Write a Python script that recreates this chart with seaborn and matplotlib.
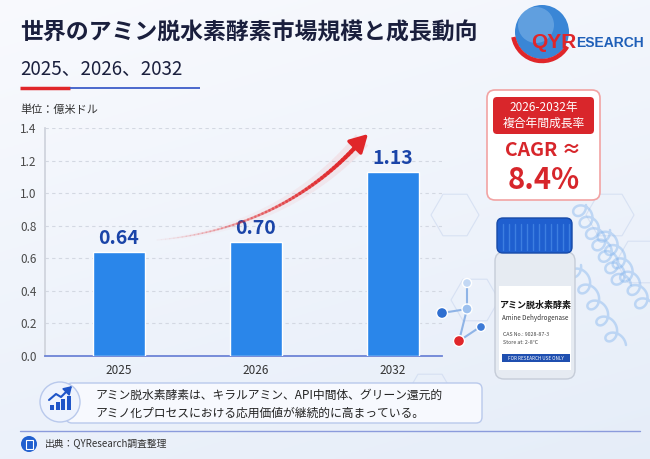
import numpy as np
import pandas as pd
import seaborn as sns
import matplotlib.pyplot as plt
from matplotlib.patches import FancyBboxPatch, Circle, Rectangle, Arc, RegularPolygon
from matplotlib.collections import LineCollection

# data
years = ['2025', '2026', '2032']
market_size = [0.64, 0.70, 1.13]
value_labels = ['0.64', '0.70', '1.13']
y_ticks = [0.0, 0.2, 0.4, 0.6, 0.8, 1.0, 1.2, 1.4]

title = '世界のアミン脱水素酵素市場規模と成長動向'
subtitle = '2025、2026、2032'
unit_label = '単位：億米ドル'
cagr_period = '2026-2032年'
cagr_name = '複合年間成長率'
cagr_value = '8.4%'
note_lines = ['アミン脱水素酵素は、キラルアミン、API中間体、グリーン還元的',
              'アミノ化プロセスにおける応用価値が継続的に高まっている。']
source = '出典：QYResearch調査整理'

sns.set_theme(style='white')
plt.rcParams['font.family'] = ['Noto Sans CJK JP', 'DejaVu Sans']

fig = plt.figure(figsize=(6.5, 4.59), dpi=100)

# background layer in pixel coordinates
bg = fig.add_axes([0, 0, 1, 1], zorder=0)
bg.set_xlim(0, 650)
bg.set_ylim(459, 0)
bg.axis('off')
yy, xx = np.mgrid[0:1:200j, 0:1:200j]
top = np.array([0.975, 0.98, 0.995])
bottom = np.array([0.90, 0.93, 0.975])
mix = (0.7 * yy + 0.3 * xx)[..., None]
img = top * (1 - mix) + bottom * mix
bg.imshow(img, extent=[0, 650, 459, 0], aspect='auto', zorder=0)

# faint hexagon outlines behind the right panel
for hx, hy in [(455, 215), (610, 215), (640, 262), (430, 395), (475, 300)]:
    bg.add_patch(RegularPolygon((hx, hy), 6, radius=24, orientation=np.pi / 6,
                                fc='none', ec='#c9d6ee', lw=0.8, alpha=0.6, zorder=1))

# chart
ax = fig.add_axes([45 / 650, 1 - 356 / 459, 397 / 650, 228 / 459], zorder=1)
ax.patch.set_alpha(0)
df = pd.DataFrame({'year': years, 'size': market_size})
sns.barplot(data=df, x='year', y='size', color='#2a86ea', saturation=1,
            width=0.38, ax=ax, zorder=3)
ax.set_xlim(-0.54, 2.36)
ax.set_ylim(0, 1.4)
ax.set_yticks(y_ticks)
ax.set_yticklabels([f'{t:.1f}' for t in y_ticks])
ax.set_xlabel('')
ax.set_ylabel('')
ax.yaxis.grid(True, linestyle=(0, (3, 3)), color='#d3d8e2', lw=0.8)
ax.set_axisbelow(True)
ax.bar_label(ax.containers[0], labels=value_labels, padding=3, fontsize=14,
             fontweight='bold', color='#1a44a8')
for s in ['top', 'right']:
    ax.spines[s].set_visible(False)
ax.spines['left'].set_color('#cfd3dc')
ax.spines['bottom'].set_color('#6d84d6')
ax.spines['bottom'].set_linewidth(1.3)
ax.tick_params(axis='y', length=0, pad=6, labelsize=8.5, labelcolor='#4a4a4a')
ax.tick_params(axis='x', length=0, pad=6, labelsize=8.5, labelcolor='#333333')

# growth arrow (quadratic curve with fading tail)
p0, p1, p2 = np.array([157, 240]), np.array([283, 229]), np.array([362, 140])
t = np.linspace(0, 1, 60)[:, None]
pts = (1 - t) ** 2 * p0 + 2 * (1 - t) * t * p1 + t ** 2 * p2
segs = np.stack([pts[:-1], pts[1:]], axis=1)
alphas = np.linspace(0.03, 1, len(segs))
glow = LineCollection(segs, colors=[(0.95, 0.5, 0.5, a * 0.15) for a in alphas],
                      linewidths=np.linspace(2, 12, len(segs)), zorder=4,
                      transform=bg.transData)
ax.add_collection(glow, autolim=False)
lc = LineCollection(segs, colors=[(0.88, 0.15, 0.16, a) for a in alphas],
                    linewidths=np.linspace(0.8, 3.2, len(segs)), zorder=5,
                    capstyle='round', transform=bg.transData)
ax.add_collection(lc, autolim=False)
ax.annotate('', xy=(368, 134), xytext=(358, 144), xycoords=bg.transData,
            textcoords=bg.transData, zorder=6,
            arrowprops=dict(arrowstyle='-|>,head_length=0.9,head_width=0.5',
                            color='#e0262a', lw=2.5, shrinkA=0, shrinkB=0))

# titles
bg.text(20, 33, title, fontsize=16.5, fontweight='bold', color='#1a1f3d', va='center')
bg.text(20, 69, subtitle, fontsize=13.5, color='#1a1f3d', va='center')
bg.plot([20, 70], [88, 88], color='#e0262a', lw=2.5, solid_capstyle='butt')
bg.plot([70, 200], [88, 88], color='#3d5cc8', lw=1.3, solid_capstyle='butt')
bg.text(20, 110, unit_label, fontsize=8, color='#333333', va='center')

# logo
bg.add_patch(Circle((542, 32), 27, fc='#3a86d6', ec='none', zorder=2))
bg.add_patch(Circle((536, 25), 18, fc='#a9d0f2', ec='none', alpha=0.35, zorder=2))
bg.add_patch(Arc((542, 32), 58, 58, theta1=30, theta2=170, color='#e0262a', lw=3.2, zorder=3))
bg.text(531, 42, 'QYR', fontsize=15, fontweight='bold', color='#e0262a',
        va='center', family='Liberation Sans', zorder=4)
bg.text(576, 43, 'ESEARCH', fontsize=10, fontweight='bold', color='#1f5fb8',
        va='center', family='Liberation Sans', zorder=4)

# CAGR box
bg.add_patch(FancyBboxPatch((487, 90), 113, 110, boxstyle='round,pad=0,rounding_size=8',
                            fc='white', ec='#f2a3a3', lw=1.2, zorder=2))
bg.add_patch(FancyBboxPatch((493, 97), 101, 37, boxstyle='round,pad=0,rounding_size=4',
                            fc='#d9262b', ec='none', zorder=3))
bg.text(543.5, 108, cagr_period, fontsize=8.5, color='white', ha='center', va='center', zorder=4)
bg.text(543.5, 123, cagr_name, fontsize=8.5, color='white', ha='center', va='center', zorder=4)
bg.text(543.5, 151, 'CAGR ≈', fontsize=14, fontweight='bold', color='#d7262b',
        ha='center', va='center', zorder=4)
bg.text(543.5, 180, cagr_value, fontsize=21, fontweight='bold', color='#d7262b',
        ha='center', va='center', zorder=4)

# protein ribbon decoration
s = np.linspace(0, 1, 400)
for dx, dy, n in [(0, 0, 7), (24, 25, 6), (-5, 60, 5)]:
    hx = 578 + dx + 45 * s + 8 * np.cos(s * 2 * np.pi * n)
    hy = 205 + dy + 80 * s + 8 * np.sin(s * 2 * np.pi * n)
    bg.plot(hx, hy, color='#86b6ee', lw=1.8, alpha=0.45, zorder=1)

# molecule decoration
bonds = [((442, 313), (467, 309)), ((467, 309), (467, 283)),
         ((467, 309), (459, 341)), ((459, 341), (480, 327))]
for a, b in bonds:
    bg.plot([a[0], b[0]], [a[1], b[1]], color='#8fb4e6', lw=1.5, zorder=1)
bg.add_patch(Circle((442, 313), 5.5, fc='#2f6fd0', zorder=2))
bg.add_patch(Circle((467, 309), 5, fc='#9cc0ee', zorder=2))
bg.add_patch(Circle((467, 283), 4.5, fc='#c3d8f4', zorder=2))
bg.add_patch(Circle((459, 341), 5.5, fc='#e0262a', zorder=2))
bg.add_patch(Circle((481, 327), 4.5, fc='#3d7ad6', zorder=2))

# bottle
bg.add_patch(FancyBboxPatch((495, 252), 80, 127, boxstyle='round,pad=0,rounding_size=9',
                            fc='#e6ebf2', ec='#c5ccd8', lw=1, zorder=3))
bg.add_patch(Rectangle((499, 286), 72, 84, fc='white', ec='none', zorder=3))
bg.add_patch(FancyBboxPatch((497, 218), 75, 35, boxstyle='round,pad=0,rounding_size=6',
                            fc='#1f5fcf', ec='#174aa8', lw=1, zorder=4))
for cx in np.arange(503, 570, 6):
    bg.plot([cx, cx], [224, 250], color='#3d7ee0', lw=1, zorder=4)
bg.text(535, 305, 'アミン脱水素酵素', fontsize=6.5, fontweight='bold', color='#111111',
        ha='center', va='center', zorder=5)
bg.text(535, 318, 'Amine Dehydrogenase', fontsize=4.5, color='#333333',
        ha='center', va='center', zorder=5)
bg.text(503, 334, 'CAS No.: 9028-87-3', fontsize=3.8, color='#444444', va='center', zorder=5)
bg.text(503, 342, 'Store at: 2-8°C', fontsize=3.8, color='#444444', va='center', zorder=5)
bg.add_patch(Rectangle((502, 354), 68, 8, fc='#1f4fb0', ec='none', zorder=5))
bg.text(536, 358, 'FOR RESEARCH USE ONLY', fontsize=3.3, color='white',
        ha='center', va='center', zorder=6)

# note box
bg.add_patch(FancyBboxPatch((66, 383), 416, 40, boxstyle='round,pad=0,rounding_size=6',
                            fc='#f7f9fe', ec='#b9c9ec', lw=1, zorder=2))
bg.add_patch(Circle((60, 402), 20, fc='#eef3fd', ec='#b9c9ec', lw=1, zorder=3))
for i, h in enumerate([5, 8, 11, 14]):
    bg.add_patch(Rectangle((50 + i * 5.5, 410 - h), 4, h, fc='#1f55c8', ec='none', zorder=4))
bg.plot([49, 56, 61, 69], [400, 394, 397, 389], color='#1f55c8', lw=1.5, zorder=4)
bg.annotate('', xy=(72, 386), xytext=(68, 390), zorder=4,
            arrowprops=dict(arrowstyle='-|>,head_length=0.4,head_width=0.25',
                            color='#1f55c8', lw=1.2, shrinkA=0, shrinkB=0))
bg.text(96, 395, note_lines[0], fontsize=8.5, color='#222222', va='center', zorder=4)
bg.text(96, 413, note_lines[1], fontsize=8.5, color='#222222', va='center', zorder=4)

# footer
bg.plot([20, 640], [431, 431], color='#8b9bdc', lw=1, zorder=2)
bg.add_patch(Circle((29, 444), 8, fc='#1f5fcf', ec='none', zorder=3))
bg.add_patch(Rectangle((25.5, 439.5), 7, 9, fc='none', ec='white', lw=0.8, zorder=4))
bg.text(45, 444, source, fontsize=7, color='#333333', va='center', zorder=4)

fig.savefig('out.png', dpi=100)
